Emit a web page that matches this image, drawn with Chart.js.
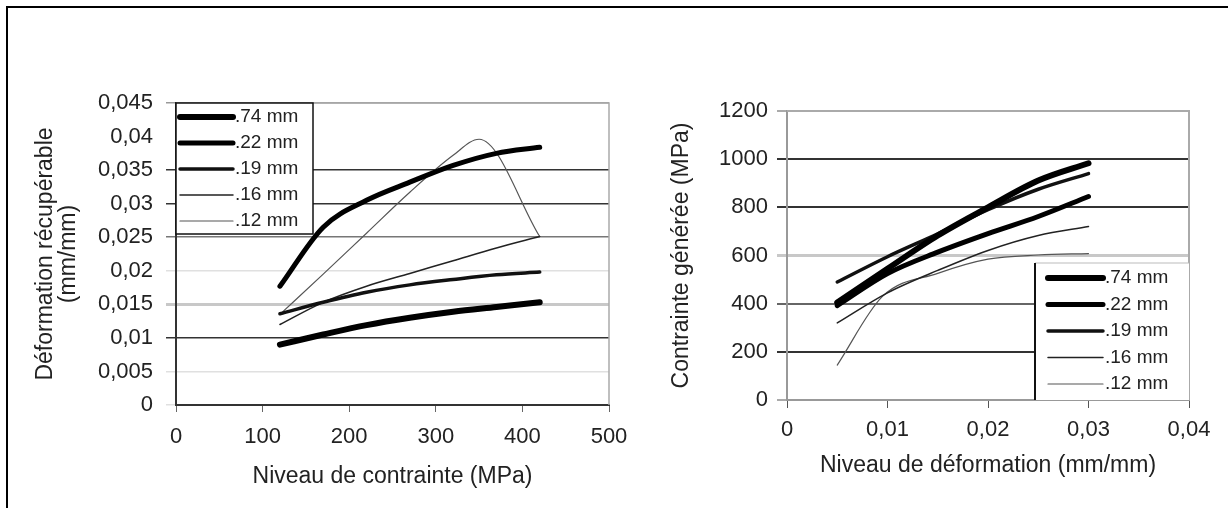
<!DOCTYPE html>
<html>
<head>
<meta charset="utf-8">
<script src="https://cdn.jsdelivr.net/npm/chart.js@4/dist/chart.umd.min.js"></script>
<style>
    body { margin: 0; background: #fff; width: 1228px; height: 508px; overflow: hidden; position: relative; }
    #frame { position: absolute; left: 6px; top: 6px; width: 1300px; height: 600px; border-left: 2px solid #000; border-top: 2px solid #000; }
    #leftBox { position: absolute; left: 0; top: 0; }
    #rightBox { position: absolute; left: 620px; top: 0; }
</style>
</head>
<body>
<div id="frame"></div>
<div id="leftBox"><canvas id="recupChart" width="640" height="508"></canvas></div>
<div id="rightBox"><canvas id="stressChart" width="608" height="508"></canvas></div>
<script>
const seriesLabels = ['.74 mm', '.22 mm', '.19 mm', '.16 mm', '.12 mm'];

// graphique gauche : deformation recuperable selon la contrainte
const stressLevels = [120, 170, 220, 270, 320, 370, 420];
const stressLevels12 = [120, 170, 220, 270, 320, 350, 420];
const recup74 = [0.0090, 0.0105, 0.0119, 0.0130, 0.0139, 0.0146, 0.0153];
const recup22 = [0.0177, 0.0265, 0.0305, 0.0332, 0.0357, 0.0375, 0.0384];
const recup19 = [0.0136, 0.0153, 0.0168, 0.0179, 0.0187, 0.0194, 0.0198];
const recup16 = [0.0120, 0.0153, 0.0177, 0.0196, 0.0215, 0.0234, 0.0251];
const recup12 = [0.0135, 0.0195, 0.0256, 0.0317, 0.0372, 0.0396, 0.0251];

// graphique droit : contrainte generee selon la deformation
const strainLevels = [0.005, 0.01, 0.015, 0.02, 0.025, 0.03];
const strainLevels12 = [0.005, 0.0095, 0.015, 0.02, 0.025, 0.03];
const stress74 = [405, 545, 683, 800, 911, 983];
const stress22 = [392, 525, 614, 691, 762, 845];
const stress19 = [490, 595, 690, 790, 875, 940];
const stress16 = [320, 445, 538, 621, 683, 720];
const stress12 = [145, 430, 526, 585, 602, 608];

const lineStyles = [
    { color: '#000', width: 6 },
    { color: '#000', width: 5 },
    { color: '#111', width: 3.5 },
    { color: '#222', width: 1.5 },
    { color: '#555', width: 1.2 }
];

const FONT = "'Liberation Sans', Arial, sans-serif";
Chart.defaults.font.family = FONT;
Chart.defaults.color = '#222';

function pts(xs, ys) {
    return xs.map((x, i) => ({ x: x, y: ys[i] }));
}

function makeDatasets(seriesList) {
    return seriesList.map((data, i) => ({
        label: seriesLabels[i],
        data: data,
        borderColor: lineStyles[i].color,
        borderWidth: lineStyles[i].width,
        borderCapStyle: 'round',
        pointRadius: 0,
        cubicInterpolationMode: 'monotone',
        fill: false
    }));
}

function commaNum(v) {
    return Number(v.toFixed(4)).toString().replace('.', ',');
}

// legende dessinee dans la zone du graphique
const legendBox = {
    id: 'legendBox',
    afterDatasetsDraw(chart, args, o) {
        const { ctx, chartArea } = chart;
        const x = o.corner === 'topLeft' ? chartArea.left : chartArea.right - o.width;
        const y = o.corner === 'topLeft' ? chartArea.top : chartArea.bottom - o.height;
        ctx.save();
        ctx.fillStyle = '#fff';
        ctx.fillRect(x, y, o.width, o.height);
        if (o.corner === 'topLeft') {
            ctx.strokeStyle = '#111';
            ctx.lineWidth = 1.5;
            ctx.strokeRect(x, y, o.width, o.height);
        } else {
            ctx.strokeStyle = '#bbb';
            ctx.lineWidth = 1;
            ctx.beginPath();
            ctx.moveTo(x, y);
            ctx.lineTo(x + o.width, y);
            ctx.stroke();
            ctx.strokeStyle = '#111';
            ctx.lineWidth = 2;
            ctx.beginPath();
            ctx.moveTo(x, y);
            ctx.lineTo(x, y + o.height);
            ctx.stroke();
        }
        ctx.font = '19px ' + FONT;
        ctx.textBaseline = 'middle';
        ctx.fillStyle = '#222';
        chart.data.datasets.forEach((ds, i) => {
            const cy = y + o.firstRow + i * o.rowGap;
            ctx.strokeStyle = ds.borderColor;
            ctx.lineWidth = ds.borderWidth;
            ctx.lineCap = 'round';
            ctx.beginPath();
            ctx.moveTo(x + o.sampleX, cy);
            ctx.lineTo(x + o.sampleX + o.sampleLen, cy);
            ctx.stroke();
            ctx.fillText(ds.label, x + o.textX, cy);
        });
        ctx.restore();
    }
};

// bords haut et droit de la zone de trace
const plotFrame = {
    id: 'plotFrame',
    beforeDatasetsDraw(chart, args, o) {
        const { ctx, chartArea: a } = chart;
        ctx.save();
        ctx.strokeStyle = o.color;
        ctx.lineWidth = o.width;
        ctx.beginPath();
        ctx.moveTo(a.left, a.top);
        ctx.lineTo(a.right, a.top);
        ctx.lineTo(a.right, a.bottom);
        ctx.stroke();
        ctx.restore();
    }
};

function gridColorLeft(ctx) {
    const v = Math.round((ctx.tick ? ctx.tick.value : 0) * 1000);
    if (v === 10 || v === 30 || v === 35) return '#333';
    if (v === 25) return '#777';
    if (v === 15) return '#c8c8c8';
    if (v === 40) return 'rgba(0,0,0,0)';
    if (v === 45) return '#999';
    return '#e0e0e0';
}

function gridColorRight(ctx) {
    const v = ctx.tick ? ctx.tick.value : 0;
    if (v === 200 || v === 800 || v === 1000) return '#333';
    if (v === 400) return '#666';
    if (v === 600) return '#c8c8c8';
    return '#aaa';
}

new Chart(document.getElementById('recupChart').getContext('2d'), {
    type: 'line',
    data: {
        datasets: makeDatasets([
            pts(stressLevels, recup74),
            pts(stressLevels, recup22),
            pts(stressLevels, recup19),
            pts(stressLevels, recup16),
            pts(stressLevels12, recup12)
        ])
    },
    plugins: [legendBox, plotFrame],
    options: {
        responsive: false,
        animation: false,
        layout: { padding: { left: 0, top: 103, right: 31, bottom: 0 } },
        plugins: {
            legend: { display: false },
            tooltip: { enabled: false },
            legendBox: { corner: 'topLeft', width: 137, height: 131, firstRow: 14, rowGap: 26, sampleX: 4, sampleLen: 53, textX: 59 },
            plotFrame: { color: '#aaa', width: 1.5 }
        },
        scales: {
            x: {
                type: 'linear',
                min: 0,
                max: 500,
                afterFit: s => { s.height = 103; },
                ticks: { stepSize: 100, padding: 12, font: { size: 22 }, color: '#222', callback: v => String(v) },
                grid: { drawOnChartArea: false, tickLength: 7, tickColor: '#666' },
                border: { color: '#333', width: 2 },
                title: { display: true, text: 'Niveau de contrainte (MPa)', font: { size: 23 }, color: '#222', padding: { bottom: 18 } }
            },
            y: {
                min: 0,
                max: 0.045,
                afterFit: s => { s.width = 176; },
                ticks: { stepSize: 0.005, padding: 13, font: { size: 22 }, color: '#222', callback: v => commaNum(v) },
                grid: { color: gridColorLeft, tickColor: gridColorLeft, tickLength: 10, lineWidth: ctx => (ctx.tick && Math.round(ctx.tick.value * 1000) === 15 ? 3 : 1.5) },
                border: { color: '#333', width: 2 },
                title: { display: true, text: ['Déformation récupérable', '(mm/mm)'], font: { size: 23, lineHeight: 1.0 }, color: '#222', padding: { top: 34 } }
            }
        }
    }
});

new Chart(document.getElementById('stressChart').getContext('2d'), {
    type: 'line',
    data: {
        datasets: makeDatasets([
            pts(strainLevels, stress74),
            pts(strainLevels, stress22),
            pts(strainLevels, stress19),
            pts(strainLevels, stress16),
            pts(strainLevels12, stress12)
        ])
    },
    plugins: [legendBox, plotFrame],
    options: {
        responsive: false,
        animation: false,
        layout: { padding: { left: 0, top: 111, right: 39, bottom: 0 } },
        plugins: {
            legend: { display: false },
            tooltip: { enabled: false },
            legendBox: { corner: 'bottomRight', width: 154, height: 137, firstRow: 15, rowGap: 26.5, sampleX: 13, sampleLen: 55, textX: 70 },
            plotFrame: { color: '#aaa', width: 2 }
        },
        scales: {
            x: {
                type: 'linear',
                min: 0,
                max: 0.04,
                afterFit: s => { s.height = 108; },
                ticks: { stepSize: 0.01, padding: 9, font: { size: 22 }, color: '#222', callback: v => commaNum(v) },
                grid: { drawOnChartArea: false, tickLength: 8, tickColor: '#555' },
                border: { color: '#999', width: 2 },
                title: { display: true, text: 'Niveau de déformation (mm/mm)', font: { size: 23 }, color: '#222', padding: { bottom: 29 } }
            },
            y: {
                min: 0,
                max: 1200,
                afterFit: s => { s.width = 167; },
                ticks: { stepSize: 200, padding: 9, font: { size: 22 }, color: '#222', callback: v => String(v) },
                grid: { color: gridColorRight, tickColor: gridColorRight, tickLength: 10, lineWidth: ctx => (ctx.tick && ctx.tick.value === 600 ? 3 : 2) },
                border: { color: '#999', width: 2 },
                title: { display: true, text: 'Contrainte générée (MPa)', font: { size: 23 }, color: '#222', padding: { top: 48 } }
            }
        }
    }
});
</script>
</body>
</html>
